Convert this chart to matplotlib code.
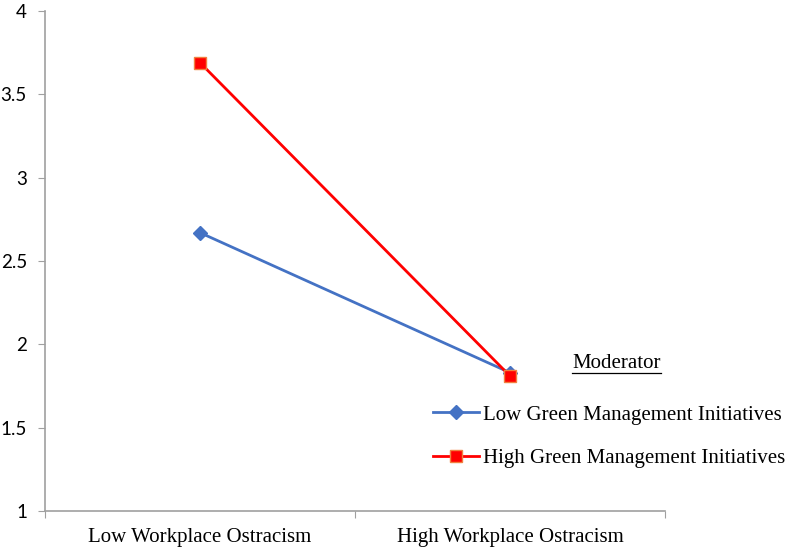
import matplotlib
matplotlib.use("Agg")
import matplotlib.pyplot as plt
from matplotlib.lines import Line2D

categories = ["Low Workplace Ostracism", "High Workplace Ostracism"]
series_names = ["Low Green Management Initiatives", "High Green Management Initiatives"]
low_gmi = [2.67, 1.83]
high_gmi = [3.69, 1.81]
y_ticks = [1, 1.5, 2, 2.5, 3, 3.5, 4]
y_tick_labels = ["1", "1.5", "2", "2.5", "3", "3.5", "4"]

W, H = 787, 549
fig = plt.figure(figsize=(W / 100, H / 100), dpi=100)
ax = fig.add_axes([45 / W, 1 - 511 / H, (665 - 45) / W, (511 - 11) / H])

x = list(range(len(categories)))
ax.plot(x, low_gmi, color="#4472C4", lw=2, marker="D", markersize=7,
        markerfacecolor="#4472C4", markeredgecolor="#4472C4", label=series_names[0])
ax.plot(x, high_gmi, color="#FF0000", lw=2, marker="s", markersize=8,
        markerfacecolor="#FF0000", markeredgecolor="#F08040", markeredgewidth=1,
        label=series_names[1])

ax.set_xlim(-0.5, 1.5)
ax.set_ylim(1, 4)
ax.set_yticks(y_ticks)
ax.set_yticklabels(y_tick_labels, fontfamily="Lato", fontsize=13.5)
ax.set_xticks([-0.5, 0.5, 1.5])
ax.set_xticklabels([])
ax.set_xticks(x, minor=True)
ax.set_xticklabels(categories, minor=True, fontfamily="Liberation Serif", fontsize=15)
ax.tick_params(axis="x", which="minor", length=0, pad=12)
ax.tick_params(axis="x", which="major", length=5, color="#A0A0A0", direction="out")
ax.tick_params(axis="y", length=5, color="#A0A0A0", direction="out", pad=8)
for s in ["top", "right"]:
    ax.spines[s].set_visible(False)
for s in ["left", "bottom"]:
    ax.spines[s].set_color("#A0A0A0")
    ax.spines[s].set_linewidth(1.2)

leg = fig.legend(loc="upper left", bbox_to_anchor=(433 / W, 1 - 405 / H),
                 frameon=False, prop={"family": "Liberation Serif", "size": 15},
                 handlelength=2.2, handletextpad=0.2, labelspacing=1.15, borderpad=0,
                 borderaxespad=0)

t = fig.text(572 / W, 1 - 364 / H, "Moderator", ha="left", va="center",
             fontfamily="Liberation Serif", fontsize=15)
fig.canvas.draw()
bb = t.get_window_extent(fig.canvas.get_renderer())
uy = (bb.y0 + 1) / H
fig.add_artist(Line2D([bb.x0 / W, bb.x1 / W], [uy, uy], color="black", lw=0.9,
                      transform=fig.transFigure))

fig.savefig("out.png", dpi=100)
